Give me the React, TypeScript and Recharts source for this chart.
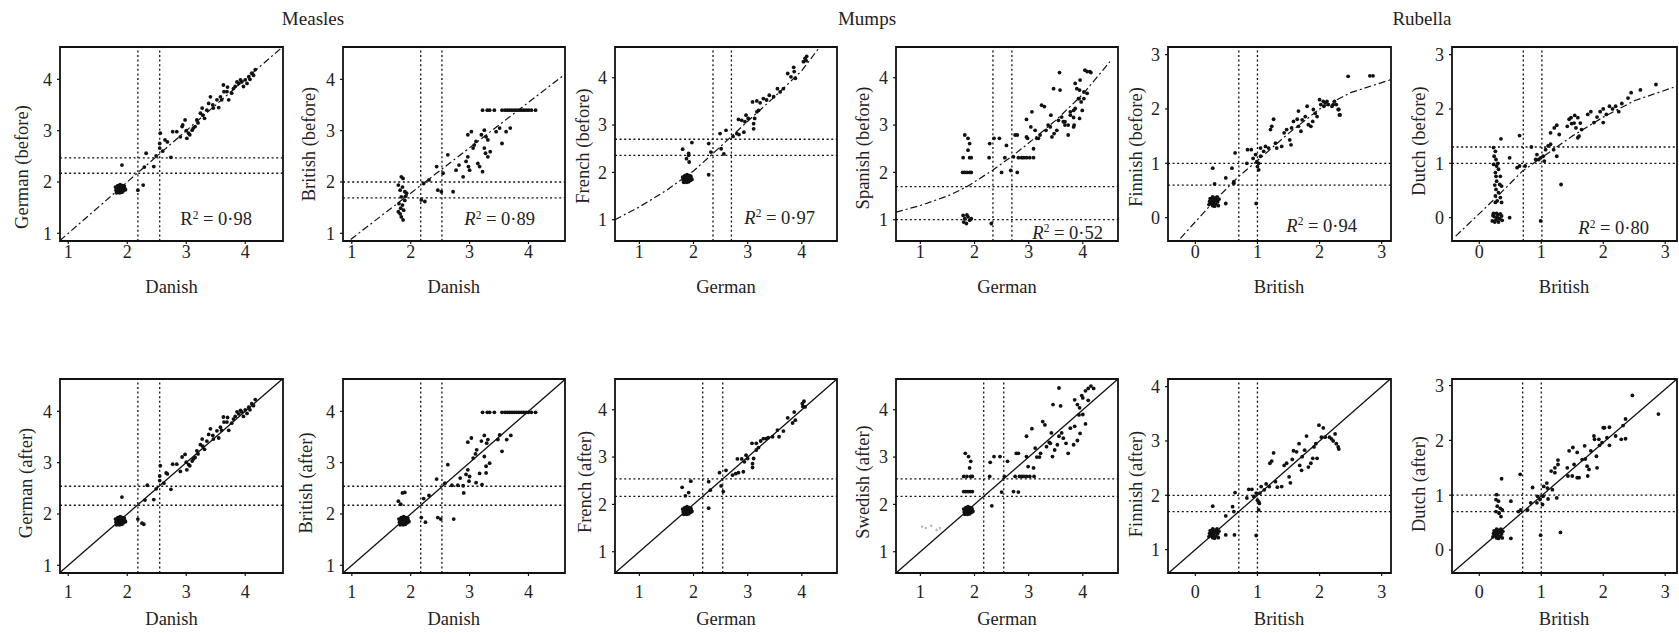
import React from 'react';
import { ScatterChart, Scatter, XAxis, YAxis, ReferenceLine, ReferenceArea } from 'recharts';

type Pt = [number, number];

const FONT = '"Liberation Serif", "Times New Roman", serif';

// ---------- tick labels ----------
const ticksMM = [1, 2, 3, 4];
const ticksRub = [0, 1, 2, 3];
const ticksRubShift = [1, 2, 3, 4];

// ---------- cut-off (dotted) lines ----------
const cutDeDkX = [2.18, 2.55];
const cutDeBeforeY = [2.17, 2.47];
const cutDkBrX = [2.17, 2.53];
const cutBrBeforeY = [1.69, 2.0];
const cutAfterMM = [2.17, 2.54];
const cutGeFrX = [2.36, 2.7];
const cutFrBeforeY = [2.36, 2.7];
const cutGeEsX = [2.34, 2.69];
const cutEsBeforeY = [1.0, 1.7];
const cutBrFiX = [0.7, 1.0];
const cutFiBeforeY = [0.6, 1.0];
const cutBrNlX = [0.71, 1.01];
const cutNlBeforeY = [1.0, 1.3];
const cutFiAfterY = [1.7, 2.0];
const cutRubAfter = [0.7, 1.0];

// ---------- clusters ----------
const lowBlobMM: Pt[] = [[1.81,1.84],[1.83,1.88],[1.85,1.82],[1.86,1.86],[1.88,1.9],[1.9,1.84],[1.92,1.88],[1.94,1.83],[1.96,1.87],[1.84,1.93],[1.88,1.95],[1.92,1.93],[1.82,1.79],[1.87,1.79],[1.91,1.8],[1.95,1.92],[1.8,1.9],[1.89,1.86],[1.86,1.9],[1.93,1.9],[1.85,1.86],[1.9,1.92],[1.97,1.85],[1.83,1.84]];
const lowBlobRub: Pt[] = [[0.22,0.24],[0.25,0.28],[0.28,0.22],[0.3,0.3],[0.33,0.25],[0.36,0.29],[0.38,0.34],[0.24,0.35],[0.28,0.38],[0.32,0.36],[0.35,0.38],[0.23,0.3],[0.27,0.33],[0.31,0.21],[0.37,0.22],[0.26,0.26],[0.34,0.32],[0.3,0.35],[0.29,0.27]];
const lowBlobFiAfter: Pt[] = [[0.22,1.24],[0.25,1.28],[0.28,1.22],[0.3,1.3],[0.33,1.25],[0.36,1.29],[0.38,1.34],[0.24,1.35],[0.28,1.38],[0.32,1.36],[0.35,1.38],[0.23,1.3],[0.27,1.33],[0.31,1.21],[0.37,1.22],[0.26,1.26],[0.34,1.32],[0.3,1.35],[0.29,1.27]];
const zeroBlobNl: Pt[] = [[0.21,-0.06],[0.24,0.02],[0.27,-0.04],[0.3,0.05],[0.33,-0.02],[0.36,0.03],[0.23,0.08],[0.28,0.08],[0.34,0.07],[0.25,-0.08],[0.31,-0.08],[0.37,-0.05],[0.29,0.0],[0.22,0.04]];

// ---------- Measles: German vs Danish ----------
const deBefore: Pt[] = [[1.91,2.33],[2.32,2.56],[2.29,2.29],[2.18,1.84],[2.27,1.94],[2.45,2.3],[2.49,2.51],[2.55,2.75],[2.56,2.95],[2.55,2.66],[2.74,2.48],[2.64,2.82],[2.77,2.98],[2.84,2.98],[2.93,3.08],[2.94,3.11],[2.98,3.21],[2.9,2.88],[3.01,2.85],[3.04,2.95],[3.1,3.01],[3.15,3.08],[3.18,3.21],[3.24,3.34],[3.27,3.44],[3.31,3.24],[3.35,3.4],[3.41,3.66],[3.38,3.53],[3.46,3.44],[3.55,3.45],[3.6,3.6],[3.63,3.89],[3.64,3.76],[3.69,3.76],[3.72,3.6],[3.77,3.73],[3.83,3.86],[3.89,3.92],[3.94,3.95],[4.0,3.99],[4.06,4.05],[4.11,4.12],[4.17,4.19],[4.03,3.92],[3.92,3.99],[3.97,3.86],[3.52,3.6],[3.06,2.92],[3.12,3.05],[3.2,3.15],[3.28,3.3],[3.45,3.5],[3.58,3.66],[3.7,3.85],[3.8,3.82],[3.86,3.95],[4.08,4.0],[4.14,4.08],[3.0,3.0],[2.6,2.6],[2.68,2.78]];
const deAfter: Pt[] = [[1.91,2.33],[2.34,2.56],[2.3,2.27],[2.18,1.9],[2.25,1.82],[2.28,1.8],[2.45,2.28],[2.49,2.49],[2.55,2.74],[2.56,2.94],[2.55,2.65],[2.74,2.48],[2.66,2.8],[2.77,2.97],[2.84,2.97],[2.93,3.11],[2.98,3.16],[2.9,2.83],[3.01,2.86],[3.04,2.96],[3.1,3.03],[3.15,3.1],[3.18,3.23],[3.24,3.35],[3.27,3.46],[3.31,3.26],[3.35,3.42],[3.41,3.66],[3.38,3.55],[3.46,3.46],[3.55,3.48],[3.6,3.63],[3.63,3.89],[3.64,3.79],[3.69,3.79],[3.72,3.63],[3.77,3.77],[3.83,3.9],[3.89,3.95],[3.94,3.99],[4.0,4.03],[4.06,4.08],[4.11,4.15],[4.17,4.23],[4.03,3.96],[3.92,4.02],[3.97,3.9],[3.52,3.62],[3.06,2.94],[3.12,3.07],[3.2,3.17],[3.28,3.32],[3.45,3.53],[3.58,3.69],[3.7,3.88],[3.8,3.85],[3.86,3.99],[4.08,4.03],[4.14,4.11],[3.0,3.01],[2.62,2.6],[2.68,2.78]];

// ---------- Measles: British vs Danish ----------
const brBefore: Pt[] = [[1.84,2.1],[1.87,2.07],[1.79,1.94],[1.82,1.84],[1.9,1.81],[1.84,1.71],[1.8,1.58],[1.83,1.49],[1.79,1.42],[1.84,1.32],[1.87,1.26],[1.9,1.64],[1.93,1.78],[1.86,1.55],[1.88,1.45],[1.82,1.38],[1.86,1.9],[1.91,1.72],[2.18,1.65],[2.24,1.62],[2.22,1.97],[2.31,2.04],[2.44,2.3],[2.46,1.84],[2.52,1.81],[2.55,2.17],[2.63,2.53],[2.72,1.81],[2.77,2.23],[2.82,2.33],[2.89,2.1],[2.94,2.4],[2.97,2.49],[2.98,2.3],[3.0,2.23],[2.97,2.92],[3.03,2.98],[3.06,2.66],[3.08,2.72],[3.11,2.79],[3.14,2.36],[3.17,2.3],[3.22,2.2],[3.2,2.92],[3.25,3.01],[3.28,2.88],[3.25,2.66],[3.27,2.56],[3.31,2.49],[3.35,2.59],[3.31,2.82],[3.45,2.98],[3.51,3.05],[3.55,2.75],[3.62,2.98],[3.69,3.05],[3.22,3.4],[3.3,3.4],[3.34,3.4],[3.42,3.4],[3.55,3.4],[3.6,3.4],[3.64,3.4],[3.68,3.4],[3.72,3.4],[3.76,3.4],[3.8,3.4],[3.84,3.4],[3.88,3.4],[3.92,3.4],[3.96,3.4],[4.0,3.4],[4.05,3.4],[4.12,3.4]];
const brAfter: Pt[] = [[1.79,2.25],[1.83,2.19],[1.86,2.41],[1.9,2.42],[2.18,1.93],[2.25,1.84],[2.22,2.3],[2.31,2.36],[2.44,2.68],[2.46,1.93],[2.51,1.9],[2.63,2.96],[2.73,1.9],[2.8,2.56],[2.84,2.7],[2.89,2.55],[2.9,2.41],[2.94,2.77],[2.97,2.86],[3.0,2.73],[2.99,2.64],[2.97,3.4],[3.03,3.48],[3.06,3.09],[3.1,3.17],[3.12,3.25],[3.11,2.61],[3.17,2.79],[3.21,2.57],[3.2,3.42],[3.25,3.53],[3.29,3.38],[3.25,3.12],[3.28,2.93],[3.28,2.8],[3.34,2.99],[3.31,3.45],[3.48,3.45],[3.51,3.54],[3.55,3.22],[3.63,3.45],[3.7,3.53],[2.58,2.6],[2.7,2.56],[3.22,3.98],[3.3,3.98],[3.34,3.98],[3.42,3.98],[3.55,3.98],[3.6,3.98],[3.64,3.98],[3.68,3.98],[3.72,3.98],[3.76,3.98],[3.8,3.98],[3.84,3.98],[3.88,3.98],[3.92,3.98],[3.96,3.98],[4.0,3.98],[4.05,3.98],[4.12,3.98]];

// ---------- Mumps: French vs German ----------
const frBefore: Pt[] = [[1.8,2.49],[1.87,2.29],[1.91,2.36],[1.92,2.22],[1.97,2.63],[1.91,2.4],[2.28,1.95],[2.28,2.61],[2.32,2.43],[2.49,2.82],[2.51,2.5],[2.56,2.39],[2.6,2.89],[2.73,2.76],[2.8,2.82],[2.84,2.8],[2.93,2.85],[2.83,3.12],[2.89,3.1],[2.95,3.07],[2.97,3.21],[3.01,3.14],[3.11,3.03],[3.11,2.92],[3.13,3.14],[3.17,3.28],[3.2,3.31],[3.09,3.49],[3.17,3.51],[3.23,3.47],[3.29,3.56],[3.35,3.53],[3.4,3.63],[3.48,3.6],[3.55,3.77],[3.6,3.7],[3.66,3.77],[3.74,4.09],[3.8,4.02],[3.85,4.22],[3.88,3.99],[3.86,4.13],[4.03,4.34],[4.06,4.41],[4.09,4.45],[4.08,4.36]];
const frAfter: Pt[] = [[1.79,2.36],[1.85,2.18],[1.91,2.25],[1.95,2.49],[2.28,1.92],[2.28,2.48],[2.31,2.3],[2.48,2.67],[2.51,2.39],[2.55,2.27],[2.6,2.72],[2.72,2.62],[2.78,2.65],[2.83,2.67],[2.92,2.69],[2.81,2.96],[2.89,2.96],[2.94,2.9],[2.97,3.04],[3.0,2.97],[3.09,2.86],[3.09,2.78],[3.11,2.97],[3.16,3.15],[3.2,3.2],[3.08,3.29],[3.16,3.29],[3.24,3.34],[3.29,3.39],[3.34,3.39],[3.38,3.41],[3.46,3.43],[3.55,3.57],[3.58,3.43],[3.66,3.55],[3.74,3.83],[3.83,3.72],[3.86,3.95],[3.88,3.78],[4.01,4.13],[4.04,4.18],[4.06,4.06],[4.02,4.07]];

// ---------- Mumps: Spanish / Swedish vs German ----------
const esBefore: Pt[] = [[1.82,2.79],[1.88,2.72],[1.91,2.61],[1.88,2.47],[1.79,2.31],[1.91,2.31],[1.94,2.31],[1.78,2.0],[1.82,2.0],[1.86,2.0],[1.91,2.0],[1.94,2.0],[1.79,1.09],[1.82,1.02],[1.88,1.06],[1.85,0.92],[1.91,0.99],[1.8,0.95],[1.94,1.02],[1.86,1.1],[2.28,2.61],[2.27,2.31],[2.31,0.92],[2.36,2.72],[2.46,2.72],[2.5,2.0],[2.56,2.31],[2.59,2.57],[2.67,2.04],[2.72,2.33],[2.75,2.79],[2.79,2.79],[2.79,2.0],[2.81,2.31],[2.87,2.31],[2.91,2.31],[2.96,2.31],[3.02,2.31],[3.09,2.31],[2.96,3.12],[2.96,2.75],[2.98,2.72],[3.04,2.96],[3.06,3.28],[3.09,2.5],[3.12,2.89],[3.15,2.72],[3.18,2.72],[3.21,2.79],[3.24,3.42],[3.29,3.39],[3.32,2.89],[3.36,3.0],[3.4,2.96],[3.41,3.21],[3.43,2.75],[3.46,3.77],[3.47,2.82],[3.52,2.89],[3.55,3.1],[3.57,4.11],[3.58,3.74],[3.61,3.17],[3.64,3.07],[3.67,3.0],[3.73,2.79],[3.77,3.28],[3.83,2.96],[3.86,3.88],[3.89,3.77],[3.92,3.56],[3.94,3.74],[3.95,3.95],[4.04,4.16],[4.08,4.13],[4.13,4.13],[4.15,4.11],[4.02,3.7],[3.97,3.49],[3.93,3.56],[3.86,3.35],[3.83,3.31],[3.77,3.21],[3.67,3.07],[3.73,3.0],[3.84,3.0],[4.02,3.56],[4.08,3.67],[3.99,3.31],[3.94,3.14],[3.83,3.16]];
const seAfter: Pt[] = [[1.83,3.08],[1.89,3.01],[1.93,2.91],[1.91,2.77],[1.8,2.59],[1.86,2.59],[1.93,2.59],[1.96,2.59],[1.8,2.27],[1.84,2.27],[1.88,2.27],[1.92,2.27],[1.96,2.27],[2.29,2.89],[2.28,2.59],[2.32,1.97],[2.36,3.01],[2.47,3.01],[2.5,2.26],[2.55,2.59],[2.61,2.91],[2.72,2.27],[2.75,2.59],[2.77,3.08],[2.81,3.08],[2.81,2.26],[2.83,2.59],[2.87,2.59],[2.91,2.59],[2.96,2.59],[3.02,2.59],[3.1,2.59],[2.96,3.44],[2.96,3.01],[2.99,2.8],[3.06,3.6],[3.09,2.77],[3.12,3.19],[3.15,3.0],[3.2,3.0],[3.22,3.08],[3.26,3.75],[3.3,3.68],[3.33,3.22],[3.38,3.31],[3.4,3.29],[3.42,3.51],[3.44,3.01],[3.45,4.11],[3.48,3.15],[3.53,3.26],[3.56,3.44],[3.56,4.46],[3.59,4.08],[3.61,3.51],[3.64,3.4],[3.69,3.29],[3.73,3.08],[3.77,3.61],[3.83,3.26],[3.85,4.21],[3.9,4.11],[3.93,3.89],[3.94,4.04],[3.98,4.3],[4.05,4.4],[4.1,4.45],[4.15,4.5],[4.2,4.45],[4.0,3.9],[4.05,3.7],[3.95,3.5],[4.1,4.2],[4.0,4.25],[3.85,3.65],[3.9,3.35]];
const seFaint: Pt[] = [[1.03,1.53],[1.1,1.5],[1.2,1.55],[1.3,1.46],[1.36,1.5]];

// ---------- Rubella: Finnish vs British ----------
const fiBefore: Pt[] = [[0.28,0.91],[0.31,0.62],[0.49,0.73],[0.49,0.26],[0.59,0.91],[0.62,0.63],[0.64,1.19],[0.62,0.66],[0.83,1.0],[0.84,1.25],[0.9,1.25],[0.93,1.09],[0.97,1.16],[0.99,1.03],[1.02,1.0],[1.0,0.94],[1.02,0.88],[0.98,0.26],[1.05,1.13],[1.05,1.28],[1.1,1.22],[1.13,1.31],[1.18,1.28],[1.21,1.62],[1.23,1.68],[1.26,1.81],[1.29,1.37],[1.31,1.28],[1.39,1.31],[1.43,1.56],[1.47,1.62],[1.52,1.43],[1.54,1.34],[1.55,1.65],[1.58,1.77],[1.64,1.81],[1.66,1.96],[1.66,1.68],[1.7,1.59],[1.72,1.8],[1.77,1.86],[1.8,2.05],[1.82,1.71],[1.86,1.68],[1.89,1.77],[1.9,1.99],[1.93,1.92],[1.96,1.86],[2.0,2.17],[2.02,2.08],[2.06,2.14],[2.09,2.11],[2.14,2.08],[2.2,2.05],[2.24,2.14],[2.27,2.08],[2.31,1.99],[2.32,1.89],[2.12,2.14],[2.22,2.08],[2.3,1.99],[2.33,1.89],[2.46,2.6],[2.81,2.61],[2.86,2.61],[2.07,2.05]];
const fiAfter: Pt[] = [[0.28,1.8],[0.49,1.62],[0.49,1.27],[0.63,1.27],[0.6,1.79],[0.64,2.05],[0.62,1.7],[0.83,1.95],[0.86,2.11],[0.91,2.11],[0.94,1.98],[0.98,2.04],[1.0,1.91],[1.02,1.88],[1.03,1.85],[1.02,1.73],[0.98,1.26],[1.04,2.04],[1.06,2.16],[1.11,2.1],[1.14,2.21],[1.19,2.16],[1.2,2.59],[1.23,2.63],[1.26,2.78],[1.29,2.25],[1.32,2.15],[1.39,2.16],[1.43,2.55],[1.47,2.59],[1.51,2.34],[1.53,2.23],[1.56,2.66],[1.58,2.82],[1.63,2.8],[1.67,2.95],[1.68,2.55],[1.71,2.46],[1.72,2.71],[1.76,2.83],[1.79,3.09],[1.82,2.52],[1.86,2.59],[1.89,2.68],[1.91,2.89],[1.94,2.95],[1.96,2.68],[1.99,3.29],[2.06,3.24],[2.03,3.07],[2.09,3.07],[2.16,3.07],[2.19,3.04],[2.25,3.13],[2.27,2.95],[2.3,2.89],[2.22,3.0],[2.31,2.85]];

// ---------- Rubella: Dutch vs British ----------
const nlBefore: Pt[] = [[0.23,1.29],[0.26,1.22],[0.24,1.13],[0.27,1.07],[0.23,0.98],[0.28,0.95],[0.31,0.89],[0.26,0.83],[0.34,0.76],[0.28,0.67],[0.33,0.61],[0.36,0.58],[0.27,0.52],[0.31,0.46],[0.26,0.4],[0.34,0.37],[0.29,0.31],[0.26,0.28],[0.36,0.28],[0.27,0.76],[0.3,1.0],[0.25,0.6],[0.35,1.45],[0.49,1.1],[0.49,0.0],[0.65,1.51],[0.61,0.92],[0.65,0.95],[0.74,0.95],[0.84,1.3],[0.91,1.07],[0.93,1.16],[0.96,1.07],[0.99,1.1],[1.03,1.13],[1.05,1.04],[0.99,-0.06],[1.07,1.25],[1.11,1.32],[1.15,1.35],[1.2,1.25],[1.25,1.13],[1.32,0.61],[1.15,1.56],[1.21,1.65],[1.25,1.7],[1.29,1.53],[1.42,1.68],[1.45,1.81],[1.48,1.84],[1.49,1.73],[1.53,1.74],[1.56,1.65],[1.59,1.47],[1.61,1.5],[1.63,1.74],[1.65,1.62],[1.54,1.88],[1.59,1.84],[1.9,1.85],[1.95,1.95],[2.0,2.0],[2.05,1.9],[2.1,2.05],[2.15,2.0],[2.2,2.05],[2.3,2.1],[2.4,2.2],[2.45,2.3],[2.6,2.35],[2.85,2.45],[1.85,1.75],[1.8,1.95],[1.75,1.9],[2.0,1.75],[2.25,1.95]];
const nlAfter: Pt[] = [[0.28,1.01],[0.31,0.89],[0.27,0.92],[0.29,0.8],[0.27,0.7],[0.32,0.67],[0.34,0.76],[0.37,0.73],[0.35,0.61],[0.36,1.3],[0.51,0.89],[0.51,0.21],[0.66,1.38],[0.63,0.7],[0.67,0.73],[0.78,0.73],[0.86,1.14],[0.83,0.86],[0.93,0.86],[0.94,0.98],[0.98,0.92],[1.03,0.98],[1.02,0.83],[0.99,0.27],[1.04,1.16],[1.09,1.22],[1.1,1.13],[1.11,0.93],[1.18,1.1],[1.25,0.95],[1.31,0.32],[1.16,1.44],[1.22,1.41],[1.22,1.5],[1.27,1.56],[1.27,1.64],[1.42,1.5],[1.45,1.81],[1.51,1.87],[1.43,1.35],[1.5,1.35],[1.58,1.32],[1.61,1.32],[1.53,1.56],[1.58,1.78],[1.7,1.9],[1.66,1.65],[1.71,1.66],[1.74,1.53],[1.75,1.35],[1.77,1.47],[1.8,1.81],[1.85,2.08],[1.86,2.02],[1.9,1.5],[1.89,1.71],[1.93,2.02],[1.94,1.91],[1.98,1.96],[2.0,2.23],[2.02,2.23],[2.06,2.05],[2.1,2.24],[2.1,1.91],[2.2,2.08],[2.29,2.02],[2.36,2.03],[2.32,2.27],[2.36,2.39],[2.47,2.82],[2.89,2.48]];

// ---------- fitted curves (top row) ----------
const fitDeDk: Pt[] = [[0.86, 0.86], [4.63, 4.63]];
const fitBrDk: Pt[] = [[0.98, 0.88], [4.62, 4.1]];
const fitFrGe: Pt[] = [[0.55,1.0],[1.0,1.27],[1.5,1.62],[2.0,2.03],[2.36,2.4],[2.7,2.76],[3.0,3.08],[3.5,3.6],[4.0,4.15],[4.33,4.65]];
const fitEsGe: Pt[] = [[0.55,1.16],[1.0,1.3],[1.5,1.5],[1.85,1.69],[2.34,2.05],[2.69,2.34],[3.0,2.62],[3.5,3.1],[4.0,3.65],[4.5,4.34]];
const fitFiBr: Pt[] = [[-0.24,-0.38],[0.3,0.3],[0.7,0.76],[1.0,1.05],[1.5,1.55],[2.0,2.0],[2.5,2.3],[3.15,2.54]];
const fitNlBr: Pt[] = [[-0.38,-0.34],[0.3,0.4],[0.7,0.86],[1.0,1.1],[1.5,1.5],[2.0,1.85],[2.5,2.15],[3.19,2.42]];

type PanelCfg = {
  left: number; top: number; w: number; h: number;
  xDomain: [number, number]; yDomain: [number, number];
  xTicks: number[]; yTicks: number[]; xTickMargin: number;
  points: Pt[]; faint?: Pt[]; fit?: Pt[]; diag?: [Pt, Pt];
  vLines: number[]; hLines: number[];
};

const TOP = 47, BOT = 378.7, H = 194;

const panels: PanelCfg[] = [
  { left: 60, top: TOP, w: 223, h: H, xDomain: [0.86, 4.64], yDomain: [0.85, 4.63], xTicks: ticksMM, yTicks: ticksMM, xTickMargin: 1, points: [...lowBlobMM, ...deBefore], fit: fitDeDk, vLines: cutDeDkX, hLines: cutDeBeforeY },
  { left: 342.7, top: TOP, w: 222, h: H, xDomain: [0.85, 4.62], yDomain: [0.85, 4.63], xTicks: ticksMM, yTicks: ticksMM, xTickMargin: 1, points: brBefore, fit: fitBrDk, vLines: cutDkBrX, hLines: cutBrBeforeY },
  { left: 615, top: TOP, w: 222, h: H, xDomain: [0.55, 4.65], yDomain: [0.55, 4.65], xTicks: ticksMM, yTicks: ticksMM, xTickMargin: 1, points: [...lowBlobMM, ...frBefore], fit: fitFrGe, vLines: cutGeFrX, hLines: cutFrBeforeY },
  { left: 896, top: TOP, w: 222, h: H, xDomain: [0.55, 4.65], yDomain: [0.55, 4.65], xTicks: ticksMM, yTicks: ticksMM, xTickMargin: 1, points: esBefore, fit: fitEsGe, vLines: cutGeEsX, hLines: cutEsBeforeY },
  { left: 1167.7, top: TOP, w: 223, h: H, xDomain: [-0.44, 3.15], yDomain: [-0.43, 3.14], xTicks: ticksRub, yTicks: ticksRub, xTickMargin: 1, points: [...lowBlobRub, ...fiBefore], fit: fitFiBr, vLines: cutBrFiX, hLines: cutFiBeforeY },
  { left: 1451.7, top: TOP, w: 225, h: H, xDomain: [-0.44, 3.19], yDomain: [-0.43, 3.14], xTicks: ticksRub, yTicks: ticksRub, xTickMargin: 1, points: [...zeroBlobNl, ...nlBefore], fit: fitNlBr, vLines: cutBrNlX, hLines: cutNlBeforeY },

  { left: 60, top: BOT, w: 223, h: H, xDomain: [0.86, 4.64], yDomain: [0.85, 4.63], xTicks: ticksMM, yTicks: ticksMM, xTickMargin: 9, points: [...lowBlobMM, ...deAfter], diag: [[0.86, 0.86], [4.63, 4.63]], vLines: cutDeDkX, hLines: cutAfterMM },
  { left: 342.7, top: BOT, w: 222, h: H, xDomain: [0.85, 4.62], yDomain: [0.85, 4.63], xTicks: ticksMM, yTicks: ticksMM, xTickMargin: 9, points: [...lowBlobMM, ...brAfter], diag: [[0.85, 0.85], [4.62, 4.62]], vLines: cutDkBrX, hLines: cutAfterMM },
  { left: 615, top: BOT, w: 222, h: H, xDomain: [0.55, 4.65], yDomain: [0.55, 4.65], xTicks: ticksMM, yTicks: ticksMM, xTickMargin: 9, points: [...lowBlobMM, ...frAfter], diag: [[0.55, 0.55], [4.65, 4.65]], vLines: cutAfterMM, hLines: cutAfterMM },
  { left: 896, top: BOT, w: 222, h: H, xDomain: [0.55, 4.65], yDomain: [0.55, 4.65], xTicks: ticksMM, yTicks: ticksMM, xTickMargin: 9, points: [...lowBlobMM, ...seAfter], faint: seFaint, diag: [[0.55, 0.55], [4.65, 4.65]], vLines: cutAfterMM, hLines: cutAfterMM },
  { left: 1167.7, top: BOT, w: 223, h: H, xDomain: [-0.44, 3.15], yDomain: [0.57, 4.14], xTicks: ticksRub, yTicks: ticksRubShift, xTickMargin: 9, points: [...lowBlobFiAfter, ...fiAfter], diag: [[-0.43, 0.57], [3.14, 4.14]], vLines: cutBrFiX, hLines: cutFiAfterY },
  { left: 1451.7, top: BOT, w: 225, h: H, xDomain: [-0.44, 3.19], yDomain: [-0.42, 3.12], xTicks: ticksRub, yTicks: ticksRub, xTickMargin: 9, points: [...lowBlobRub, ...nlAfter], diag: [[-0.44, -0.42], [3.19, 3.12]], vLines: cutRubAfter, hLines: cutRubAfter },
];

const toObj = (a: Pt[]) => a.map(([x, y]) => ({ x, y }));
const Dot = (p: any) => <circle cx={p.cx} cy={p.cy} r={1.9} fill="#111" />;
const FaintDot = (p: any) => <circle cx={p.cx} cy={p.cy} r={1.2} fill="#b5b5b5" />;
const NoDot = () => <g />;

const tickStyle = { fill: '#222', fontSize: 18, fontFamily: FONT };

function Panel({ c }: { c: PanelCfg }) {
  const ML = 60, MT = 6, MR = 8, MB = 50;
  return (
    <div style={{ position: 'absolute', left: c.left - ML, top: c.top - MT }}>
      <ScatterChart width={ML + c.w + MR} height={MT + c.h + MB} margin={{ top: MT, right: MR, bottom: 0, left: 0 }}>
        <XAxis type="number" dataKey="x" domain={c.xDomain} ticks={c.xTicks} allowDataOverflow height={MB}
          axisLine={false} tickLine={{ stroke: '#111', strokeWidth: 1.2 }} tickSize={3} tickMargin={c.xTickMargin}
          tick={tickStyle} interval={0} />
        <YAxis type="number" dataKey="y" domain={c.yDomain} ticks={c.yTicks} allowDataOverflow width={ML}
          axisLine={false} tickLine={{ stroke: '#111', strokeWidth: 1.2 }} tickSize={3} tickMargin={5}
          tick={tickStyle} interval={0} />
        {c.vLines.map((v) => (
          <ReferenceLine key={'v' + v} x={v} stroke="#111" strokeWidth={1.3} strokeDasharray="2 2.6" />
        ))}
        {c.hLines.map((v) => (
          <ReferenceLine key={'h' + v} y={v} stroke="#111" strokeWidth={1.3} strokeDasharray="2 2.6" />
        ))}
        {c.diag && (
          <ReferenceLine segment={[{ x: c.diag[0][0], y: c.diag[0][1] }, { x: c.diag[1][0], y: c.diag[1][1] }]}
            stroke="#111" strokeWidth={1.3} ifOverflow="visible" />
        )}
        {c.fit && (
          <Scatter data={toObj(c.fit)} line={{ stroke: '#111', strokeWidth: 1.2, strokeDasharray: '7 3 2 3' }}
            shape={NoDot} isAnimationActive={false} />
        )}
        {c.faint && <Scatter data={toObj(c.faint)} shape={FaintDot} isAnimationActive={false} />}
        <Scatter data={toObj(c.points)} shape={Dot} isAnimationActive={false} />
        <ReferenceArea x1={c.xDomain[0]} x2={c.xDomain[1]} y1={c.yDomain[0]} y2={c.yDomain[1]}
          fill="none" stroke="#111" strokeWidth={1.8} ifOverflow="visible" />
      </ScatterChart>
    </div>
  );
}

const groupTitles = [
  { text: 'Measles', x: 313, y: 18 },
  { text: 'Mumps', x: 867, y: 18 },
  { text: 'Rubella', x: 1422, y: 18 },
];

const xTitles = [
  { text: 'Danish', x: 171.5, y: 286.5 }, { text: 'Danish', x: 453.7, y: 286.5 },
  { text: 'German', x: 726, y: 286.5 }, { text: 'German', x: 1007, y: 286.5 },
  { text: 'British', x: 1279, y: 286.5 }, { text: 'British', x: 1564, y: 286.5 },
  { text: 'Danish', x: 171.5, y: 619 }, { text: 'Danish', x: 453.7, y: 619 },
  { text: 'German', x: 726, y: 619 }, { text: 'German', x: 1007, y: 619 },
  { text: 'British', x: 1279, y: 619 }, { text: 'British', x: 1564, y: 619 },
];

const yTitles = [
  { text: 'German (before)', x: 21.7, y: 167 }, { text: 'British (before)', x: 309.3, y: 144 },
  { text: 'French (before)', x: 582.7, y: 146 }, { text: 'Spanish (before)', x: 863.3, y: 148 },
  { text: 'Finnish (before)', x: 1136, y: 146.7 }, { text: 'Dutch (before)', x: 1419.3, y: 141 },
  { text: 'German (after)', x: 25.8, y: 482.5 }, { text: 'British (after)', x: 305.8, y: 482.5 },
  { text: 'French (after)', x: 585, y: 481.7 }, { text: 'Swedish (after)', x: 863, y: 481.7 },
  { text: 'Finnish (after)', x: 1135.5, y: 484 }, { text: 'Dutch (after)', x: 1419, y: 484 },
];

const r2Labels = [
  { value: '0·98', italic: false, right: 252, y: 219 },
  { value: '0·89', italic: true, right: 535, y: 219 },
  { value: '0·97', italic: true, right: 815, y: 217.5 },
  { value: '0·52', italic: true, right: 1103, y: 232.5 },
  { value: '0·94', italic: true, right: 1357, y: 225.7 },
  { value: '0·80', italic: true, right: 1649, y: 228 },
];

const textBase: React.CSSProperties = {
  position: 'absolute', whiteSpace: 'nowrap', lineHeight: 1, color: '#222', fontFamily: FONT,
};

export default function App() {
  return (
    <div style={{ position: 'absolute', left: 0, top: 0, width: 1679, height: 633, background: '#fff', fontFamily: FONT, overflow: 'hidden' }}>
      <style>{`svg text, .recharts-text { font-family: "Liberation Serif", "Times New Roman", serif !important; }`}</style>
      {panels.map((c, i) => <Panel key={i} c={c} />)}
      {groupTitles.map((t) => (
        <div key={t.text} style={{ ...textBase, left: t.x, top: t.y, fontSize: 19, transform: 'translate(-50%, -50%)' }}>{t.text}</div>
      ))}
      {xTitles.map((t, i) => (
        <div key={'x' + i} style={{ ...textBase, left: t.x, top: t.y, fontSize: 18.5, transform: 'translate(-50%, -50%)' }}>{t.text}</div>
      ))}
      {yTitles.map((t, i) => (
        <div key={'y' + i} style={{ ...textBase, left: t.x, top: t.y, fontSize: 18.5, transform: 'translate(-50%, -50%) rotate(-90deg)' }}>{t.text}</div>
      ))}
      {r2Labels.map((r, i) => (
        <div key={'r' + i} style={{ ...textBase, left: r.right, top: r.y, fontSize: 18.5, transform: 'translate(-100%, -50%)' }}>
          {r.italic ? <i>R</i> : <span>R</span>}
          <span style={{ fontSize: '0.62em', position: 'relative', top: '-0.55em' }}>2</span>
          {' = ' + r.value}
        </div>
      ))}
    </div>
  );
}
